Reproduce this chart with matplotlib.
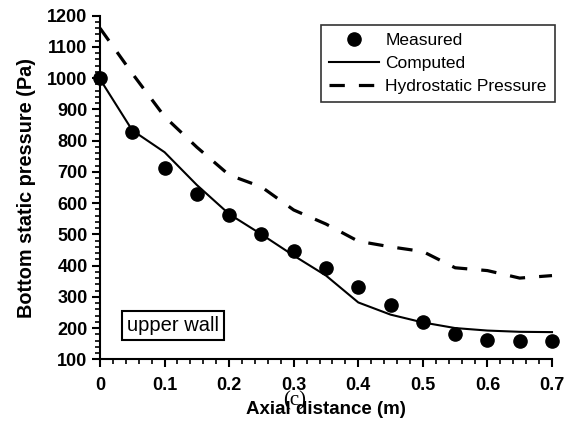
import matplotlib
matplotlib.use("Agg")
import matplotlib.pyplot as plt
from matplotlib.ticker import MultipleLocator

plt.rcParams['font.family'] = ['Liberation Sans', 'DejaVu Sans']

x_meas = [0.0, 0.05, 0.10, 0.15, 0.20, 0.25, 0.30, 0.35, 0.40, 0.45, 0.50, 0.55, 0.60, 0.65, 0.70]
y_meas = [1001, 827, 711, 628, 561, 502, 448, 391, 332, 274, 220, 180, 162, 157, 159]

x_comp = [0.0, 0.05, 0.10, 0.15, 0.20, 0.25, 0.30, 0.35, 0.40, 0.45, 0.50, 0.55, 0.60, 0.65, 0.70]
y_comp = [997, 833, 763, 658, 565, 500, 432, 368, 282, 243, 218, 200, 192, 188, 187]

x_hyd = [0.0, 0.05, 0.10, 0.15, 0.20, 0.25, 0.30, 0.35, 0.40, 0.45, 0.50, 0.55, 0.60, 0.65, 0.70]
y_hyd = [1160, 1015, 877, 779, 690, 652, 578, 533, 478, 460, 445, 393, 384, 360, 368]

xticks = [0, 0.1, 0.2, 0.3, 0.4, 0.5, 0.6, 0.7]
xticklabels = ['0', '0.1', '0.2', '0.3', '0.4', '0.5', '0.6', '0.7']
yticks = [100, 200, 300, 400, 500, 600, 700, 800, 900, 1000, 1100, 1200]

fig = plt.figure(figsize=(5.67, 4.23), dpi=100)
ax = fig.add_axes([100/567, 1-359.3/423, 452/567, (359.3-15.7)/423])

ax.plot(x_meas, y_meas, 'o', color='black', markersize=9.5, label='Measured', clip_on=False, zorder=3)
ax.plot(x_comp, y_comp, '-', color='black', lw=1.5, label='Computed', clip_on=False)
ax.plot(x_hyd, y_hyd, color='black', lw=2.3, dashes=[4.8, 4.4], label='Hydrostatic Pressure', clip_on=False)

ax.set_xlim(0, 0.7)
ax.set_ylim(100, 1200)
ax.set_xticks(xticks)
ax.set_xticklabels(xticklabels)
ax.set_yticks(yticks)
ax.xaxis.set_minor_locator(MultipleLocator(0.02))
ax.yaxis.set_minor_locator(MultipleLocator(20))
for s in ['top', 'right']:
    ax.spines[s].set_visible(False)
for s in ['left', 'bottom']:
    ax.spines[s].set_linewidth(1.5)
ax.tick_params(which='major', direction='out', length=6, width=1.5, labelsize=13)
ax.tick_params(axis='x', which='major', pad=7)
ax.tick_params(axis='y', which='major', pad=3)
ax.tick_params(which='minor', direction='out', length=3.5, width=1.2)
for lab in ax.get_xticklabels() + ax.get_yticklabels():
    lab.set_fontweight('bold')

ax.set_xlabel('Axial distance (m)', fontsize=13.5, fontweight='bold', labelpad=5)
ax.set_ylabel('Bottom static pressure (Pa)', fontsize=14.3, fontweight='bold', labelpad=8)

leg = ax.legend(loc='upper right', bbox_to_anchor=(555/567, 1-25/423), bbox_transform=fig.transFigure,
                fontsize=12.5, frameon=True, fancybox=False, edgecolor='black',
                handlelength=2.85, handletextpad=0.4, borderpad=0.47, labelspacing=0.45, borderaxespad=0)
leg.get_frame().set_linewidth(1.2)

ax.text(0.1136, 208, 'upper wall', fontsize=14.5, va='center', ha='center',
        bbox=dict(boxstyle='square,pad=0.25', facecolor='white', edgecolor='black', linewidth=1.5))

fig.text(294.5/567, 1-401/423, '(c)', fontsize=15, family=['Liberation Serif'], ha='center', va='center')

fig.savefig('out.png', dpi=100)
